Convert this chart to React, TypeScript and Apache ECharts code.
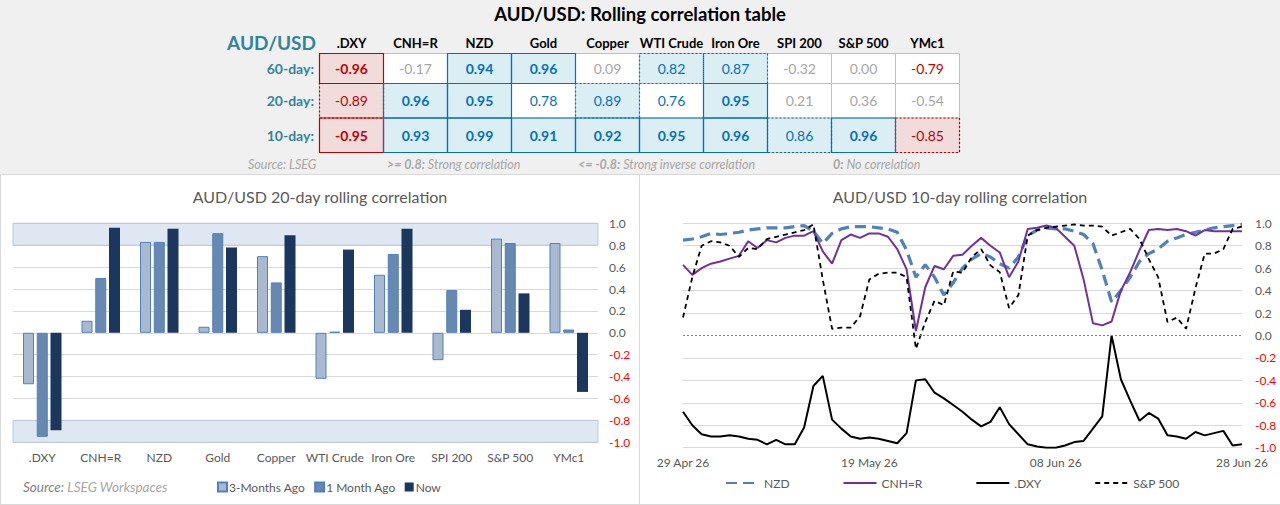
import React, { useEffect, useRef } from 'react';
import * as echarts from 'echarts';

// ---------- Table data ----------
const tableColumns = ['.DXY', 'CNH=R', 'NZD', 'Gold', 'Copper', 'WTI Crude', 'Iron Ore', 'SPI 200', 'S&P 500', 'YMc1'];
const tableRows = ['60-day:', '20-day:', '10-day:'];
const corr60Day = [-0.96, -0.17, 0.94, 0.96, 0.09, 0.82, 0.87, -0.32, 0.0, -0.79];
const corr20Day = [-0.89, 0.96, 0.95, 0.78, 0.89, 0.76, 0.95, 0.21, 0.36, -0.54];
const corr10Day = [-0.95, 0.93, 0.99, 0.91, 0.92, 0.95, 0.96, 0.86, 0.96, -0.85];

// ---------- Bar chart data (20-day rolling correlation) ----------
const barNames = ['3-Months Ago', '1 Month Ago', 'Now'];
const threeMonthsAgo = [-0.47, 0.11, 0.83, 0.055, 0.7, -0.42, 0.53, -0.25, 0.86, 0.82];
const oneMonthAgo = [-0.95, 0.5, 0.83, 0.91, 0.46, 0.01, 0.72, 0.39, 0.82, 0.03];
const nowValues = [-0.89, 0.96, 0.95, 0.78, 0.89, 0.76, 0.95, 0.21, 0.36, -0.54];

// ---------- Line chart data (10-day rolling correlation) ----------
const lineDates = [
  '29 Apr 26', '30 Apr 26', '01 May 26', '02 May 26', '03 May 26', '04 May 26', '05 May 26', '06 May 26', '07 May 26', '08 May 26',
  '09 May 26', '10 May 26', '11 May 26', '12 May 26', '13 May 26', '14 May 26', '15 May 26', '16 May 26', '17 May 26', '18 May 26',
  '19 May 26', '20 May 26', '21 May 26', '22 May 26', '23 May 26', '24 May 26', '25 May 26', '26 May 26', '27 May 26', '28 May 26',
  '29 May 26', '30 May 26', '31 May 26', '01 Jun 26', '02 Jun 26', '03 Jun 26', '04 Jun 26', '05 Jun 26', '06 Jun 26', '07 Jun 26',
  '08 Jun 26', '09 Jun 26', '10 Jun 26', '11 Jun 26', '12 Jun 26', '13 Jun 26', '14 Jun 26', '15 Jun 26', '16 Jun 26', '17 Jun 26',
  '18 Jun 26', '19 Jun 26', '20 Jun 26', '21 Jun 26', '22 Jun 26', '23 Jun 26', '24 Jun 26', '25 Jun 26', '26 Jun 26', '27 Jun 26',
  '28 Jun 26',
];
const nzdSeries = [
  0.85, 0.86, 0.88, 0.91, 0.9, 0.91, 0.92, 0.94, 0.95, 0.96,
  0.96, 0.96, 0.97, 0.98, 0.93, 0.82, 0.91, 0.95, 0.97, 0.97,
  0.97, 0.96, 0.95, 0.92, 0.76, 0.52, 0.63, 0.52, 0.36, 0.47,
  0.6, 0.68, 0.73, 0.7, 0.64, 0.6, 0.7, 0.89, 0.94, 0.96,
  0.95, 0.95, 0.93, 0.9, 0.82, 0.58, 0.3, 0.4, 0.52, 0.66,
  0.73, 0.77, 0.84, 0.87, 0.9, 0.92, 0.94, 0.96, 0.97, 0.98,
  0.99,
];
const cnhSeries = [
  0.63, 0.54, 0.6, 0.64, 0.66, 0.685, 0.71, 0.84, 0.78, 0.85,
  0.83, 0.87, 0.89, 0.89, 0.93, 0.75, 0.64, 0.85, 0.9, 0.87,
  0.91, 0.91, 0.88, 0.77, 0.59, 0.04, 0.43, 0.62, 0.59, 0.71,
  0.72, 0.8, 0.87, 0.8, 0.74, 0.52, 0.66, 0.95, 0.96, 0.98,
  0.96, 0.88, 0.8, 0.5, 0.11, 0.09, 0.125, 0.4, 0.565, 0.76,
  0.94, 0.95, 0.94, 0.95, 0.93, 0.89, 0.94, 0.93, 0.93, 0.93,
  0.93,
];
const dxySeries = [
  -0.68, -0.8, -0.88, -0.9, -0.9, -0.89, -0.9, -0.92, -0.93, -0.97,
  -0.93, -0.97, -0.97, -0.82, -0.45, -0.36, -0.75, -0.83, -0.9, -0.92,
  -0.91, -0.92, -0.94, -0.96, -0.87, -0.4, -0.39, -0.51, -0.56, -0.62,
  -0.68, -0.75, -0.81, -0.77, -0.64, -0.79, -0.88, -0.97, -0.99, -1.0,
  -1.0, -0.98, -0.95, -0.94, -0.83, -0.72, 0.0, -0.39, -0.58, -0.76,
  -0.69, -0.74, -0.89, -0.9, -0.92, -0.86, -0.89, -0.87, -0.85, -0.98,
  -0.97,
];
const spxSeries = [
  0.16, 0.52, 0.8, 0.84, 0.83, 0.8, 0.7, 0.78, 0.77, 0.86,
  0.88, 0.9, 0.92, 0.94, 0.99, 0.5, 0.06, 0.07, 0.07, 0.17,
  0.5, 0.55, 0.56, 0.56, 0.52, -0.12, 0.12, 0.31, 0.27, 0.57,
  0.56, 0.7, 0.77, 0.625, 0.565, 0.245, 0.36, 0.89, 0.94, 0.96,
  0.97, 0.98, 0.99, 0.98, 0.98, 0.97, 0.89, 0.92, 0.95, 0.86,
  0.68, 0.52, 0.12, 0.16, 0.06, 0.42, 0.73, 0.73, 0.77, 0.95,
  0.97,
];

const FONT = 'Lato, "Open Sans", sans-serif';

function cellLook(v: number) {
  const a = Math.abs(v);
  const pos = v > 0;
  return {
    fill: a >= 0.8 ? (pos ? '#daeef3' : '#f2dcdb') : '#ffffff',
    text: a >= 0.7 ? (pos ? '#0070c0' : '#c00000') : '#a6a6a6',
    bold: a >= 0.9,
    border: a >= 0.8 ? (pos ? '#0070c0' : '#c00000') : null,
    dotted: a < 0.9,
  };
}

function txt(x: number, y: number, text: string, font: string, fill: string, align = 'center', extra: any = {}) {
  return {
    type: 'text',
    x,
    y,
    silent: true,
    style: { text, font, fill, align, verticalAlign: 'middle', textAlign: align, textVerticalAlign: 'middle', ...extra },
  };
}

function buildGraphics() {
  const els: any[] = [];
  const x0 = 319.5;
  const colW = 64;
  const rowEdges = [53.5, 83.5, 118, 152.5];
  const rowsData = [corr60Day, corr20Day, corr10Day];
  const xEnd = x0 + colW * tableColumns.length;

  els.push({ type: 'rect', silent: true, shape: { x: 0, y: 0, width: 1280, height: 174 }, style: { fill: '#f0f0f0' } });
  els.push(txt(640, 14, 'AUD/USD: Rolling correlation table', `bold 18.5px ${FONT}`, '#000000'));
  els.push(txt(316, 42, 'AUD/USD', `bold 19px ${FONT}`, '#31849b', 'right'));

  tableColumns.forEach((c, i) => {
    els.push(txt(x0 + colW * (i + 0.5), 43, c, `bold 13px ${FONT}`, '#000000'));
  });

  rowsData.forEach((row, r) => {
    const yTop = rowEdges[r];
    const h = rowEdges[r + 1] - yTop;
    els.push(txt(314, yTop + h / 2, tableRows[r], `bold 14px ${FONT}`, '#31849b', 'right'));
    row.forEach((v, c) => {
      const look = cellLook(v);
      els.push({ type: 'rect', silent: true, shape: { x: x0 + colW * c, y: yTop, width: colW, height: h }, style: { fill: look.fill } });
      els.push(txt(x0 + colW * (c + 0.5), yTop + h / 2, v.toFixed(2), `${look.bold ? 'bold ' : ''}14px ${FONT}`, look.text));
    });
  });

  rowEdges.forEach((y) => {
    els.push({ type: 'line', silent: true, shape: { x1: x0, y1: y, x2: xEnd, y2: y }, style: { stroke: '#bfbfbf', lineWidth: 1 } });
  });
  for (let c = 0; c <= tableColumns.length; c++) {
    const x = x0 + colW * c;
    els.push({ type: 'line', silent: true, shape: { x1: x, y1: rowEdges[0], x2: x, y2: rowEdges[3] }, style: { stroke: '#bfbfbf', lineWidth: 1 } });
  }

  [true, false].forEach((dottedPass) => {
    rowsData.forEach((row, r) => {
      const yTop = rowEdges[r];
      const h = rowEdges[r + 1] - yTop;
      row.forEach((v, c) => {
        const look = cellLook(v);
        if (!look.border || look.dotted !== dottedPass) return;
        els.push({
          type: 'rect',
          silent: true,
          shape: { x: x0 + colW * c, y: yTop, width: colW, height: h },
          style: { fill: 'none', stroke: look.border, lineWidth: 1.2, lineDash: dottedPass ? [2, 2] : null },
        });
      });
    });
  });

  const noteFont = `italic 12.5px ${FONT}`;
  const boldNote = { fontStyle: 'italic', fontWeight: 'bold', fontSize: 12.5, fontFamily: FONT, fill: '#a6a6a6' };
  const normNote = { fontStyle: 'italic', fontSize: 12.5, fontFamily: FONT, fill: '#a6a6a6' };
  els.push(txt(248, 164, 'Source: LSEG', noteFont, '#a6a6a6', 'left'));
  els.push(txt(387, 164, '{b|>= 0.8:} {n|Strong correlation}', noteFont, '#a6a6a6', 'left', { rich: { b: boldNote, n: normNote } }));
  els.push(txt(578, 164, '{b|<= -0.8:} {n|Strong inverse correlation}', noteFont, '#a6a6a6', 'left', { rich: { b: boldNote, n: normNote } }));
  els.push(txt(833, 164, '{b|0:} {n|No correlation}', noteFont, '#a6a6a6', 'left', { rich: { b: boldNote, n: normNote } }));

  els.push({ type: 'line', silent: true, shape: { x1: 0, y1: 174.5, x2: 1280, y2: 174.5 }, style: { stroke: '#d9d9d9', lineWidth: 1 } });
  els.push({ type: 'line', silent: true, shape: { x1: 0.5, y1: 174.5, x2: 0.5, y2: 505 }, style: { stroke: '#d9d9d9', lineWidth: 1 } });
  els.push({ type: 'line', silent: true, shape: { x1: 639.5, y1: 174.5, x2: 639.5, y2: 505 }, style: { stroke: '#d9d9d9', lineWidth: 1 } });
  els.push({ type: 'line', silent: true, shape: { x1: 0, y1: 504.5, x2: 1280, y2: 504.5 }, style: { stroke: '#d9d9d9', lineWidth: 1 } });

  els.push(txt(320, 196, 'AUD/USD 20-day rolling correlation', `16px ${FONT}`, '#595959'));
  els.push(txt(960, 196, 'AUD/USD 10-day rolling correlation', `16px ${FONT}`, '#595959'));

  els.push(
    txt(23, 487, '{a|Source:} {b|LSEG Workspaces}', `italic 13.5px ${FONT}`, '#7f7f7f', 'left', {
      rich: {
        a: { fontStyle: 'italic', fontSize: 13.5, fontFamily: FONT, fill: '#7f7f7f' },
        b: { fontStyle: 'italic', fontSize: 13.5, fontFamily: FONT, fill: '#a6a6a6' },
      },
    })
  );
  return els;
}

const yLabelFormatter = (v: number) => {
  const val = Math.abs(v) < 1e-9 ? 0 : v;
  const s = val.toFixed(1);
  return val < 0 ? `{neg|${s}}` : `{pos|${s}}`;
};
const yLabelRich = {
  neg: { color: '#ff0000', fontSize: 12, fontFamily: FONT },
  pos: { color: '#595959', fontSize: 12, fontFamily: FONT },
};

const zeroHidden = ['#d9d9d9', '#d9d9d9', '#d9d9d9', '#d9d9d9', '#d9d9d9', 'rgba(0,0,0,0)', '#d9d9d9', '#d9d9d9', '#d9d9d9', '#d9d9d9', '#d9d9d9'];

function buildOption() {
  return {
    animation: false,
    backgroundColor: '#ffffff',
    textStyle: { fontFamily: FONT },
    graphic: { elements: buildGraphics() },
    grid: [
      { left: 13, top: 223.3, width: 585, height: 219 },
      { left: 683, top: 223.3, width: 559, height: 224.4 },
    ],
    legend: [
      {
        data: barNames,
        left: 217,
        top: 481,
        padding: 0,
        icon: 'rect',
        itemWidth: 9,
        itemHeight: 9,
        itemGap: 9,
        selectedMode: false,
        textStyle: { color: '#595959', fontSize: 12, fontFamily: FONT, padding: [0, 0, 0, -3] },
      },
      {
        data: ['NZD', 'CNH=R', '.DXY', 'S&P 500'],
        left: 725,
        top: 477,
        padding: 0,
        itemWidth: 33,
        itemHeight: 10,
        itemGap: 53,
        selectedMode: false,
        itemStyle: { opacity: 0, color: 'rgba(0,0,0,0)', borderWidth: 0 },
        textStyle: { color: '#595959', fontSize: 12, fontFamily: FONT },
      },
    ],
    xAxis: [
      {
        type: 'category',
        gridIndex: 0,
        data: tableColumns,
        axisLine: { show: false },
        axisTick: { show: false },
        axisLabel: { color: '#595959', fontSize: 12, fontFamily: FONT, margin: 9, interval: 0 },
      },
      {
        type: 'category',
        gridIndex: 1,
        data: lineDates,
        boundaryGap: false,
        axisLine: { show: false },
        axisTick: { show: false },
        axisLabel: { color: '#595959', fontSize: 12, fontFamily: FONT, margin: 9, interval: 19 },
      },
    ],
    yAxis: [
      {
        type: 'value',
        gridIndex: 0,
        position: 'right',
        min: -1,
        max: 1,
        interval: 0.2,
        axisLine: { show: false },
        axisTick: { show: false },
        axisLabel: { margin: 11, formatter: yLabelFormatter, rich: yLabelRich },
        splitLine: { lineStyle: { color: '#d9d9d9', width: 1 } },
      },
      {
        type: 'value',
        gridIndex: 1,
        position: 'right',
        min: -1,
        max: 1,
        interval: 0.2,
        axisLine: { show: false },
        axisTick: { show: false },
        axisLabel: { margin: 13, formatter: yLabelFormatter, rich: yLabelRich },
        splitLine: { lineStyle: { color: zeroHidden, width: 1 } },
      },
    ],
    series: [
      {
        name: barNames[0],
        type: 'bar',
        xAxisIndex: 0,
        yAxisIndex: 0,
        data: threeMonthsAgo,
        barWidth: 11,
        barGap: '25%',
        itemStyle: { color: '#a9bad0', borderColor: '#4f81bd', borderWidth: 1 },
        emphasis: { disabled: true },
        markArea: {
          silent: true,
          itemStyle: { color: 'rgba(176,196,222,0.40)', borderColor: '#bcc8d8', borderWidth: 1 },
          data: [
            [{ yAxis: 0.8 }, { yAxis: 1 }],
            [{ yAxis: -1 }, { yAxis: -0.8 }],
          ],
        },
      },
      {
        name: barNames[1],
        type: 'bar',
        xAxisIndex: 0,
        yAxisIndex: 0,
        data: oneMonthAgo,
        barWidth: 11,
        barGap: '25%',
        itemStyle: { color: '#6788b0', borderColor: '#4f81bd', borderWidth: 1 },
        emphasis: { disabled: true },
      },
      {
        name: barNames[2],
        type: 'bar',
        xAxisIndex: 0,
        yAxisIndex: 0,
        data: nowValues,
        barWidth: 11,
        barGap: '25%',
        itemStyle: { color: '#1c375e', borderColor: '#1c375e', borderWidth: 0 },
        emphasis: { disabled: true },
      },
      {
        name: 'NZD',
        type: 'line',
        xAxisIndex: 1,
        yAxisIndex: 1,
        data: nzdSeries,
        symbol: 'none',
        itemStyle: { color: '#4f81bd' },
        lineStyle: { color: '#4f81bd', width: 3.2, type: [11, 6] },
        emphasis: { disabled: true },
      },
      {
        name: 'CNH=R',
        type: 'line',
        xAxisIndex: 1,
        yAxisIndex: 1,
        data: cnhSeries,
        symbol: 'none',
        itemStyle: { color: '#7030a0' },
        lineStyle: { color: '#7030a0', width: 2 },
        emphasis: { disabled: true },
      },
      {
        name: '.DXY',
        type: 'line',
        xAxisIndex: 1,
        yAxisIndex: 1,
        data: dxySeries,
        symbol: 'none',
        itemStyle: { color: '#000000' },
        lineStyle: { color: '#000000', width: 2 },
        emphasis: { disabled: true },
        markLine: {
          silent: true,
          symbol: 'none',
          label: { show: false },
          lineStyle: { color: '#7f7f7f', width: 1, type: [2, 2] },
          data: [{ yAxis: 0 }],
        },
      },
      {
        name: 'S&P 500',
        type: 'line',
        xAxisIndex: 1,
        yAxisIndex: 1,
        data: spxSeries,
        symbol: 'none',
        itemStyle: { color: '#000000' },
        lineStyle: { color: '#000000', width: 1.8, type: [5, 4] },
        emphasis: { disabled: true },
      },
    ],
  };
}

export default function App() {
  const ref = useRef<HTMLDivElement>(null);
  useEffect(() => {
    document.body.style.margin = '0';
    const chart = echarts.init(ref.current as HTMLDivElement, null, { renderer: 'svg' });
    chart.setOption(buildOption() as any);
    return () => {
      chart.dispose();
    };
  }, []);
  return <div ref={ref} style={{ position: 'absolute', left: 0, top: 0, width: 1280, height: 505 }} />;
}
